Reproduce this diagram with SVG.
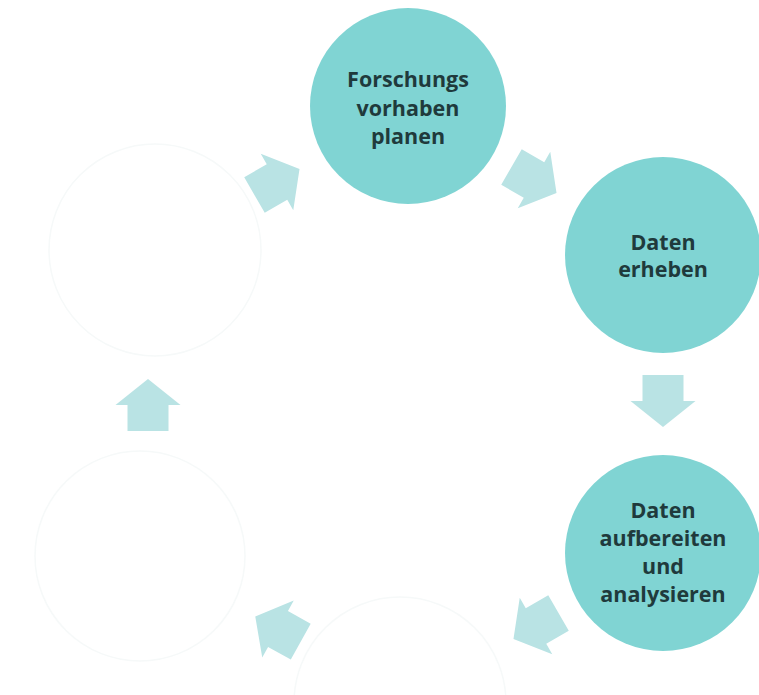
<svg xmlns="http://www.w3.org/2000/svg" width="759" height="695" viewBox="0 0 759 695">
<style>
.main{fill:#80d4d3}
.blank{fill:#ffffff;stroke:#f6f9f9;stroke-width:1.5}
.lbl{font-family:"Open Sans","Liberation Sans",sans-serif;font-weight:700;font-size:21.5px;fill:#1f3a3c;text-anchor:middle}
.arr{fill:#b9e3e4}
</style>
<defs>
<path id="arrow" d="M-26,-20.5 L0,-20.5 L0,-32.5 L26,0 L0,32.5 L0,20.5 L-26,20.5 Z"/>
</defs>
<rect width="759" height="695" fill="#ffffff"/>
<g id="node-blank-topleft"><circle class="blank" cx="155" cy="250" r="106"/></g>
<g id="node-blank-bottomleft"><circle class="blank" cx="140" cy="556" r="105"/></g>
<g id="node-blank-bottom"><circle class="blank" cx="400" cy="703" r="106"/></g>
<g id="node-planen">
<circle class="main" cx="408" cy="106" r="98"/>
<text class="lbl" x="408" y="87">Forschungs</text>
<text class="lbl" x="408" y="116">vorhaben</text>
<text class="lbl" x="408" y="144">planen</text>
</g>
<g id="node-erheben">
<circle class="main" cx="663" cy="255" r="98"/>
<text class="lbl" x="663" y="250">Daten</text>
<text class="lbl" x="663" y="277">erheben</text>
</g>
<g id="node-analysieren">
<circle class="main" cx="663" cy="553" r="98"/>
<text class="lbl" x="663" y="518">Daten</text>
<text class="lbl" x="663" y="546">aufbereiten</text>
<text class="lbl" x="663" y="574">und</text>
<text class="lbl" x="663" y="602">analysieren</text>
</g>
<g id="connectors" class="arr">
<use href="#arrow" transform="translate(534,180) rotate(30)"/>
<use href="#arrow" transform="translate(663,401) rotate(90)"/>
<use href="#arrow" transform="translate(536,626) rotate(150)"/>
<use href="#arrow" transform="translate(278,629) rotate(209)"/>
<use href="#arrow" transform="translate(148,405) rotate(-90)"/>
<use href="#arrow" transform="translate(277,182) rotate(-30)"/>
</g>
</svg>
